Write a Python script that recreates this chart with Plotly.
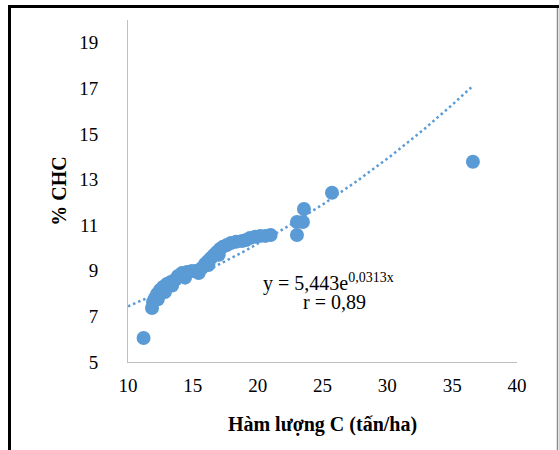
import numpy as np
import plotly.graph_objects as go

# Carbon content (tấn/ha) vs % CHC
carbon = [11.2, 11.85, 11.93, 12.08, 12.24, 12.47, 12.70, 13.0, 13.3, 13.6, 13.85, 14.16,
          14.55, 14.93, 15.32, 15.7, 15.94, 16.17, 16.4, 16.63, 16.86, 17.09, 17.32, 17.63,
          17.94, 18.33, 18.79, 19.1, 19.4, 19.8, 20.2, 20.6, 21.0,
          12.85, 14.4, 15.45, 16.2, 12.3, 13.4, 17.0,
          23.03, 23.03, 23.49, 23.57, 25.73, 36.6]
chc = [6.05, 7.37, 7.63, 7.81, 7.98, 8.16, 8.29, 8.42, 8.51, 8.6, 8.77, 8.9,
       8.95, 8.99, 9.0, 9.12, 9.3, 9.43, 9.56, 9.7, 9.83, 9.96, 10.05, 10.13,
       10.22, 10.27, 10.31, 10.35, 10.44, 10.49, 10.53, 10.53, 10.57,
       8.07, 8.7, 8.9, 9.25, 7.75, 8.35, 9.7,
       10.57, 11.14, 11.14, 11.71, 12.42, 13.78]

# Exponential trendline shown on chart: y = a * e^(b x)
trend_a = 5.443
trend_b = 0.0313
trend_x_start = 10
trend_x_end = 36.6

x_ticks = [10, 15, 20, 25, 30, 35, 40]
y_ticks = [5, 7, 9, 11, 13, 15, 17, 19]

blue = "#5B9BD5"
FONT = "Liberation Serif"

tx = np.linspace(trend_x_start, trend_x_end, 200)
ty = trend_a * np.exp(trend_b * tx)

fig = go.Figure()
fig.add_trace(go.Scatter(x=tx, y=ty, mode="lines",
                         line=dict(color=blue, width=2.5, dash="2.5px,3px"),
                         hoverinfo="skip", showlegend=False))
fig.add_trace(go.Scatter(x=carbon, y=chc, mode="markers",
                         marker=dict(color=blue, size=14, line=dict(width=0)),
                         showlegend=False))

W, H = 559, 450
L, R, T, B = 128, 42, 20, 88
pw, ph = W - L - R, H - T - B

def px(xp):
    return (xp - L) / pw

def py(yp):
    return (H - B - yp) / ph

shapes = [
    dict(type="line", xref="paper", yref="paper", x0=px(9.5), x1=px(9.5), y0=py(6), y1=py(452),
         line=dict(color="black", width=3)),
    dict(type="line", xref="paper", yref="paper", x0=px(8), x1=px(559), y0=py(6.5), y1=py(6.5),
         line=dict(color="black", width=3)),
    dict(type="line", xref="paper", yref="paper", x0=px(557.5), x1=px(557.5), y0=py(8), y1=py(452),
         line=dict(color="#8c8c8c", width=1.5)),
]

fig.update_layout(
    width=W, height=H,
    margin=dict(l=L, r=R, t=T, b=B),
    paper_bgcolor="white", plot_bgcolor="white",
    font=dict(family=FONT, color="black"),
    shapes=shapes,
    xaxis=dict(range=[10, 40], tickvals=x_ticks, ticktext=[str(v) for v in x_ticks],
               showgrid=False, zeroline=False, showline=True, linecolor="#bfbfbf", linewidth=1,
               ticks="", tickfont=dict(family=FONT, size=19, color="black"), ticklabelstandoff=6,
               title=dict(text="<b>Hàm lượng C (tấn/ha)</b>",
                          font=dict(family=FONT, size=20, color="black"), standoff=22)),
    yaxis=dict(range=[5, 20], tickvals=y_ticks, ticktext=[str(v) for v in y_ticks],
               showgrid=False, zeroline=False, showline=True, linecolor="#bfbfbf", linewidth=1,
               ticks="", tickfont=dict(family=FONT, size=19, color="black"), ticklabelstandoff=25,
               title=dict(text="<b>% CHC</b>",
                          font=dict(family=FONT, size=20, color="black"), standoff=7)),
    annotations=[
        dict(x=px(328.5), y=py(282), xref="paper", yref="paper",
             text="y = 5,443e<sup>0,0313x</sup>", showarrow=False,
             font=dict(family=FONT, size=20, color="black"), xanchor="center", yanchor="middle"),
        dict(x=px(334.5), y=py(302), xref="paper", yref="paper",
             text="r = 0,89", showarrow=False,
             font=dict(family=FONT, size=20, color="black"), xanchor="center", yanchor="middle"),
    ],
)

fig.write_html("out.html")
